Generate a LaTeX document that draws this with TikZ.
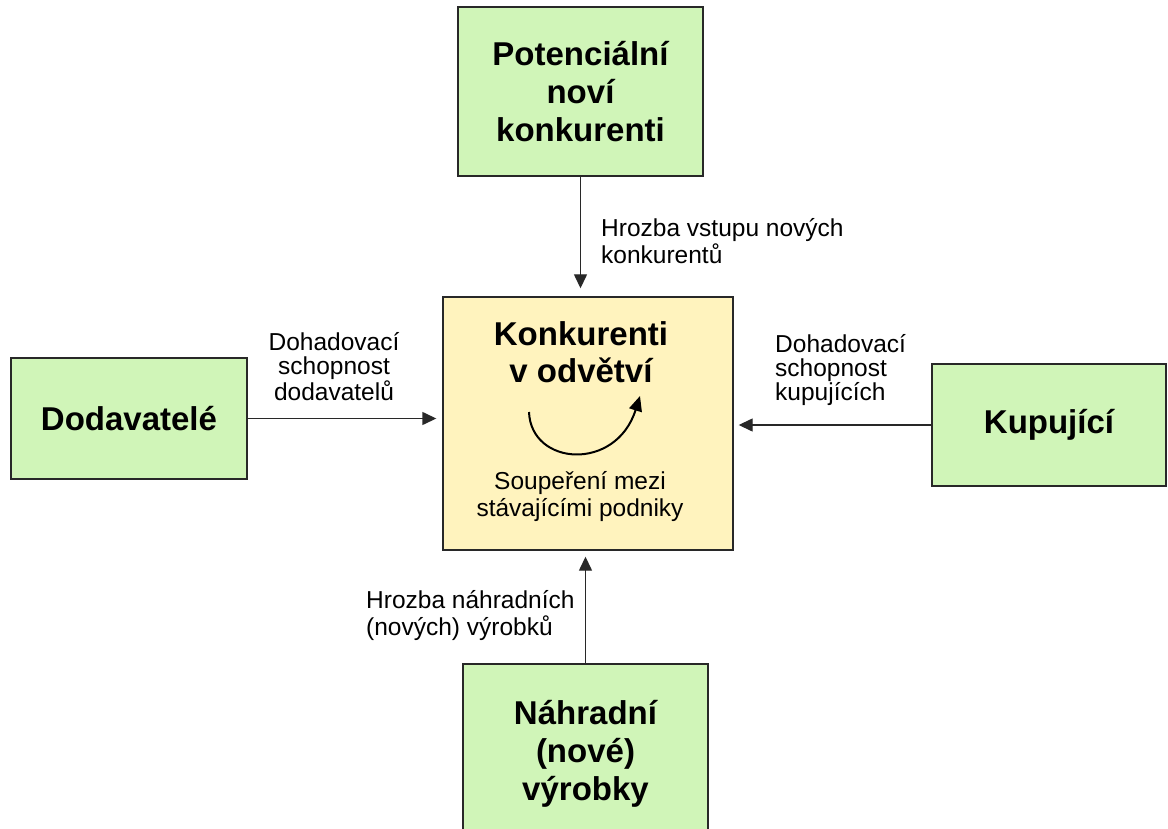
\documentclass[tikz,border=0pt]{standalone}
\usepackage{fontspec}
\setmainfont{Liberation Sans}
\usetikzlibrary{arrows.meta}
\definecolor{boxgreen}{RGB}{208,245,184}
\definecolor{boxyellow}{RGB}{255,243,190}
\definecolor{edgecol}{RGB}{40,40,40}
\begin{document}
\begin{tikzpicture}[x=1pt,y=-1pt,
  greenbox/.style={draw=edgecol,line width=1.4pt,fill=boxgreen,inner sep=0pt,align=center,
    font=\fontsize{33}{38}\selectfont\bfseries},
  centerbox/.style={draw=edgecol,line width=1.4pt,fill=boxyellow,inner sep=0pt},
  titletext/.style={inner sep=0pt,align=center,font=\fontsize{33}{37}\selectfont\bfseries},
  lbl/.style={inner sep=0pt,font=\fontsize{24.5}{27}\selectfont},
  sidelbl/.style={inner sep=0pt,font=\fontsize{24.5}{24}\selectfont},
  conn/.style={draw=edgecol,line width=1.4pt,-{Triangle[length=14pt,width=13pt]}}]
\useasboundingbox (0,0) rectangle (1168,829);
\fill[white] (0,0) rectangle (1168,829);
\clip (0,0) rectangle (1168,829);

\node[greenbox,minimum width=245,minimum height=169] (pot) at (580.5,91.5) {Potenciální\\noví\\konkurenti};
\node[centerbox,minimum width=290,minimum height=253] (kon) at (588,423.5) {};
\node[greenbox,minimum width=236,minimum height=121] (dod) at (129,418.5) {Dodavatelé};
\node[greenbox,minimum width=234,minimum height=122] (kup) at (1049,425) {Kupující};
\node[greenbox,minimum width=245,minimum height=172,text depth=0pt] (nah) at (585.5,750) {Náhradní\\(nové)\\výrobky};

\node[titletext] (kontitle) at (581,352) {Konkurenti\\v odvětví};
\node[lbl,align=center] (rival) at (580,497) {Soupeření mezi\\stávajícími podniky};
\coordinate (cs) at (529,412);
\coordinate (ce) at (640,396);
\draw[draw=black,line width=2pt,-{Triangle[length=15pt,width=13pt]}] (cs) .. controls (531,466) and (616,472) .. (ce);

\draw[conn,shorten >=8pt] (pot.south) -- (pot.south |- kon.north);
\draw[conn,shorten >=6pt] (dod.east) -- (dod.east -| kon.west);
\draw[conn,shorten >=5pt] (kup.west) -- (kup.west -| kon.east);
\draw[conn,shorten >=6pt] (nah.north) -- (nah.north |- kon.south);

\node[lbl,align=left,anchor=west] (lbltop) at (601,241) {Hrozba vstupu nových\\konkurentů};
\node[sidelbl,align=center] (lblleft) at (334,367) {Dohadovací\\schopnost\\dodavatelů};
\node[sidelbl,align=left,anchor=west] (lblright) at (775,370) {Dohadovací\\schopnost\\kupujících};
\node[lbl,align=left,anchor=west] (lblbottom) at (366,616) {Hrozba náhradních\\(nových) výrobků};
\end{tikzpicture}
\end{document}
